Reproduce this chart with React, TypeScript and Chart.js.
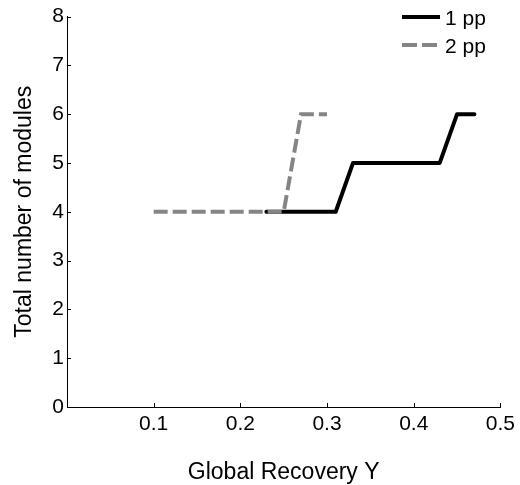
import React, { useEffect, useRef } from "react";
import { Chart, registerables } from "chart.js";

Chart.register(...registerables);

const series1X = [0.23, 0.31, 0.33, 0.43, 0.45, 0.47];
const series1Y = [4, 4, 5, 5, 6, 6];
const series2X = [0.1, 0.25, 0.27, 0.3];
const series2Y = [4, 4, 6, 6];
const seriesNames = ["1 pp", "2 pp"];
const xTicks = [0.1, 0.2, 0.3, 0.4, 0.5];
const yTicks = [0, 1, 2, 3, 4, 5, 6, 7, 8];

const FONT = "'Liberation Sans', Arial, sans-serif";
const GRAY = "#858585";

const inwardTicks = {
  id: "inwardTicks",
  afterDraw(chart: any) {
    const ctx = chart.ctx;
    const xs = chart.scales.x;
    const ys = chart.scales.y;
    const area = chart.chartArea;
    ctx.save();
    ctx.strokeStyle = "#000";
    ctx.lineWidth = 1;
    ctx.beginPath();
    xTicks.forEach((v) => {
      const px = Math.round(xs.getPixelForValue(v)) + 0.5;
      ctx.moveTo(px, area.bottom);
      ctx.lineTo(px, area.bottom - 4);
    });
    yTicks.forEach((v) => {
      const py = Math.round(ys.getPixelForValue(v)) + 0.5;
      ctx.moveTo(area.left, py);
      ctx.lineTo(area.left + 4, py);
    });
    ctx.stroke();
    ctx.restore();
  },
};

const customLegend = {
  id: "customLegend",
  afterDraw(chart: any) {
    const ctx = chart.ctx;
    ctx.save();
    ctx.font = "21px " + FONT;
    ctx.textBaseline = "middle";
    ctx.fillStyle = "#000";
    ctx.lineWidth = 4;
    ctx.strokeStyle = "#000";
    ctx.setLineDash([]);
    ctx.beginPath();
    ctx.moveTo(402, 17);
    ctx.lineTo(440, 17);
    ctx.stroke();
    ctx.fillText(seriesNames[0], 445, 19);
    ctx.strokeStyle = GRAY;
    ctx.setLineDash([15, 5]);
    ctx.beginPath();
    ctx.moveTo(402, 45);
    ctx.lineTo(437, 45);
    ctx.stroke();
    ctx.setLineDash([]);
    ctx.fillText(seriesNames[1], 445, 47.5);
    ctx.restore();
  },
};

export default function App() {
  const ref = useRef<HTMLCanvasElement>(null);
  useEffect(() => {
    document.body.style.margin = "0";
    const chart = new Chart(ref.current!, {
      type: "line",
      data: {
        datasets: [
          {
            label: seriesNames[1],
            data: series2X.map((x, i) => ({ x, y: series2Y[i] })),
            borderColor: GRAY,
            borderWidth: 4,
            borderDash: [14, 5],
            pointRadius: 0,
            fill: false,
            tension: 0,
          },
          {
            label: seriesNames[0],
            data: series1X.map((x, i) => ({ x, y: series1Y[i] })),
            borderColor: "#000",
            borderWidth: 4,
            pointRadius: 0,
            fill: false,
            tension: 0,
            borderJoinStyle: "round",
            borderCapStyle: "round",
          },
        ],
      },
      options: {
        animation: false,
        responsive: false,
        maintainAspectRatio: false,
        layout: { padding: { top: 16.5, right: 19, left: 0, bottom: 0 } },
        plugins: { legend: { display: false }, tooltip: { enabled: false } },
        scales: {
          x: {
            type: "linear",
            min: 0,
            max: 0.5,
            afterBuildTicks: (s: any) => {
              s.ticks = xTicks.map((v) => ({ value: v }));
            },
            afterFit: (s: any) => {
              s.height = 78;
            },
            grid: { display: false, drawTicks: false },
            border: { display: true, color: "#000", width: 1 },
            ticks: {
              color: "#000",
              padding: 5,
              font: { family: FONT, size: 21 },
              callback: (v: any) => Number(v).toFixed(1),
              maxRotation: 0,
            },
            title: {
              display: true,
              text: "Global Recovery Y",
              color: "#000",
              font: { family: FONT, size: 23 },
              padding: { top: 0, bottom: -1 },
            },
          },
          y: {
            type: "linear",
            min: 0,
            max: 8,
            afterBuildTicks: (s: any) => {
              s.ticks = yTicks.map((v) => ({ value: v }));
            },
            afterFit: (s: any) => {
              s.width = 67;
            },
            grid: { display: false, drawTicks: false },
            border: { display: true, color: "#000", width: 1 },
            ticks: {
              color: "#000",
              padding: 3,
              font: { family: FONT, size: 21 },
            },
            title: {
              display: true,
              text: "Total number of modules",
              color: "#000",
              font: { family: FONT, size: 23 },
              padding: { top: 11, bottom: 0 },
            },
          },
        },
      },
      plugins: [inwardTicks, customLegend],
    });
    return () => chart.destroy();
  }, []);
  return (
    <div style={{ position: "absolute", left: 0, top: 0, width: 520, height: 485, background: "#fff" }}>
      <canvas ref={ref} width={520} height={485} style={{ width: 520, height: 485 }} />
    </div>
  );
}
